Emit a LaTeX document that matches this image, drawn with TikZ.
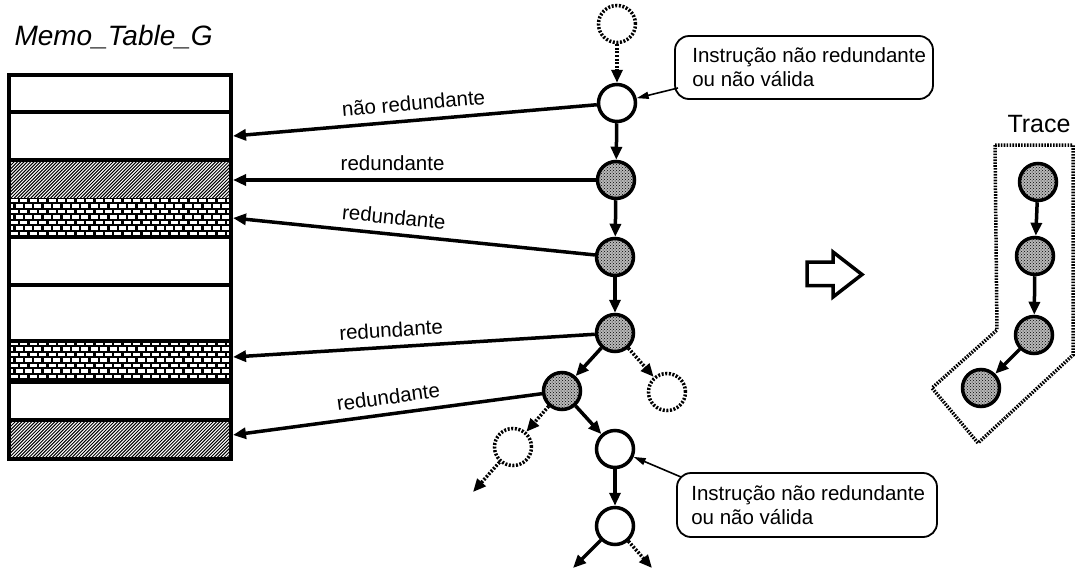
\documentclass[tikz,border=0pt]{standalone}
\usepackage{fontspec}
\setmainfont{Liberation Sans}
\usetikzlibrary{arrows.meta,patterns}

% brick fill of one table row: white bricks on black mortar
\newcommand\brickband[2]{%
  \begin{scope}
    \clip (11,#1) rectangle (229,#2);
    \fill[black] (11,#1) rectangle (229,#2);
    \foreach \k in {0,...,7} {
      \pgfmathsetmacro\yy{#1+2.6+\k*5.5}
      \pgfmathsetmacro\ph{mod(\k,2)*4.8}
      \draw[white, line width=3.5pt, dash pattern=on 7pt off 2.4pt, dash phase=\ph pt] (11,\yy) -- (229,\yy);
    }
  \end{scope}}
% diagonal hatching of one table row
\newcommand\hatchband[2]{%
  \begin{scope}
    \clip (11,#1) rectangle (229,#2);
    \foreach \k in {-15,...,70} {
      \draw[line width=1pt] (11+\k*3.3,#2) -- ++(50,-50);
    }
  \end{scope}}

\begin{document}
\begin{tikzpicture}[x=1pt,y=-1pt,
  every node/.style={font=\fontsize{20.5}{24}\selectfont},
  stage/.style={circle, draw, line width=3.5pt, minimum size=37pt, inner sep=0pt, fill=white},
  hit/.style={circle, draw, line width=3.5pt, minimum size=37pt, inner sep=0pt,
    preaction={fill=black!28}, pattern=crosshatch dots, pattern color=black},
  ghost/.style={circle, draw, line width=3.5pt, dash pattern=on 2pt off 1.6pt, minimum size=37pt, inner sep=0pt},
  flow/.style={line width=3.5pt, -{Triangle[length=13pt,width=11pt]}},
  dflow/.style={flow, dash pattern=on 2pt off 1.6pt},
  ptr/.style={line width=1.6pt, -{Triangle[length=12pt,width=7pt]}},
  callout/.style={draw, line width=1.8pt, rounded corners=14pt, inner sep=0pt},
  calltext/.style={align=left, inner sep=0pt},
  edgelab/.style={inner sep=1pt, sloped, above=7pt},
]
\useasboundingbox (0,0) rectangle (1082,571);
\fill[white] (0,0) rectangle (1082,571);

% ---- Memo_Table_G ----
\node[anchor=base west, font=\fontsize{28}{30}\selectfont\itshape] (title) at (11,45) {Memo\_Table\_G};
\hatchband{160}{198}
\brickband{198}{237}
\brickband{341}{381.5}
\hatchband{420}{459}
\draw[line width=4pt] (9,75) rectangle (230.5,459);
\foreach \yy in {111.5,160,237,285,341,381.5,420}
  \draw[line width=4pt] (9,\yy) -- (230.5,\yy);
\coordinate (m1) at (233,136);
\coordinate (m2) at (233,180);
\coordinate (m3) at (233,218);
\coordinate (m4) at (233,357);
\coordinate (m5) at (233,435);

% ---- execution tree ----
\node[ghost] (g0) at (617,24) {};
\node[stage] (n1) at (617,103) {};
\node[hit]   (n2) at (616,180) {};
\node[hit]   (n3) at (615,257) {};
\node[hit]   (n4) at (615,333) {};
\node[hit]   (n5) at (562,391) {};
\node[ghost] (g1) at (667,392) {};
\node[ghost] (g2) at (513,447) {};
\node[stage] (n6) at (615,449) {};
\node[stage] (n7) at (615,526) {};
\coordinate (e1) at (473,492);
\coordinate (e2) at (573,568);
\coordinate (e3) at (652,568);

\draw[dflow] (g0) -- (n1);
\draw[flow] (n1) -- (n2);
\draw[flow] (n2) -- (n3);
\draw[flow] (n3) -- (n4);
\draw[flow] (n4) -- (n5);
\draw[dflow] (n4) -- (g1);
\draw[flow] (n5) -- (n6);
\draw[dflow] (n5) -- (g2);
\draw[dflow] (g2) -- (e1);
\draw[flow] (n6) -- (n7);
\draw[flow] (n7) -- (e2);
\draw[dflow] (n7) -- (e3);

% ---- table lookups ----
\draw[flow] (n1) -- node[edgelab, pos=0.5] (l1) {não redundante} (m1);
\draw[flow] (n2) -- node[edgelab, pos=0.56] (l2) {redundante} (m2);
\draw[flow] (n3) -- node[edgelab, pos=0.56] (l3) {redundante} (m3);
\draw[flow] (n4) -- node[edgelab, pos=0.56] (l4) {redundante} (m4);
\draw[flow] (n5) -- node[edgelab, pos=0.49] (l5) {redundante} (m5);

% ---- callouts ----
\node[callout, minimum width=258pt, minimum height=63pt] (c1) at (804,67.5) {};
\node[calltext, anchor=west] (c1t) at ([xshift=18pt]c1.west) {Instrução não redundante\\ou não válida};
\coordinate (p1) at (678,88);
\draw[ptr] (p1) -- (n1);

\node[callout, minimum width=260pt, minimum height=64pt] (c2) at (807,505) {};
\node[calltext, anchor=west] (c2t) at ([xshift=15pt]c2.west) {Instrução não redundante\\ou não válida};
\coordinate (p2) at (681,477);
\draw[ptr] (p2) -- (n6);

% ---- hollow arrow ----
\draw[line width=3.5pt, line join=miter] (807,262) -- (833,262) -- (833,252) -- (862,274.5)
  -- (833,297) -- (833,285.5) -- (807,285.5) -- cycle;

% ---- trace ----
\node[anchor=base, font=\fontsize{25}{28}\selectfont] (tracelab) at (1039,132) {Trace};
\draw[line width=3.5pt, dash pattern=on 1.6pt off 1.3pt]
  (995,145) -- (1073,145) -- (1073,355) -- (978,443) -- (932,388) -- (997,330) -- cycle;
\node[hit] (t1) at (1038,182) {};
\node[hit] (t2) at (1035,256) {};
\node[hit] (t3) at (1034,335) {};
\node[hit] (t4) at (981,388) {};
\draw[flow] (t1) -- (t2);
\draw[flow] (t2) -- (t3);
\draw[flow] (t3) -- (t4);
\end{tikzpicture}
\end{document}
